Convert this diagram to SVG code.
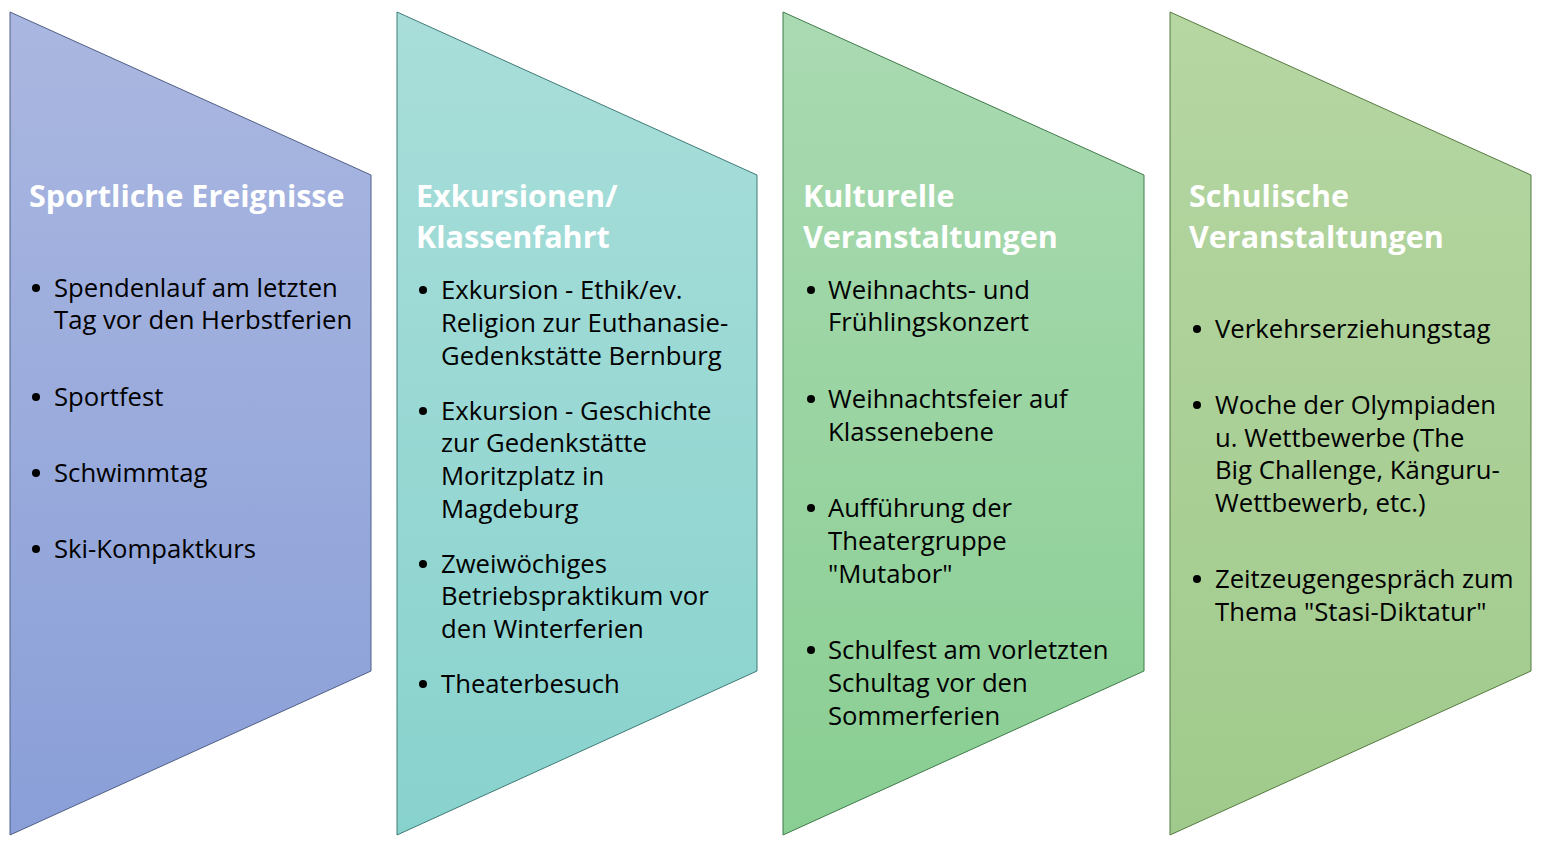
<svg xmlns="http://www.w3.org/2000/svg" width="1546" height="844" viewBox="0 0 1546 844">
<defs>
<linearGradient id="g1" x1="0" y1="0" x2="0" y2="1"><stop offset="0" stop-color="#AAB7E0"/><stop offset="1" stop-color="#8A9FD8"/></linearGradient>
<linearGradient id="g2" x1="0" y1="0" x2="0" y2="1"><stop offset="0" stop-color="#A9DEDA"/><stop offset="1" stop-color="#88D2CD"/></linearGradient>
<linearGradient id="g3" x1="0" y1="0" x2="0" y2="1"><stop offset="0" stop-color="#AADAB2"/><stop offset="1" stop-color="#89CE92"/></linearGradient>
<linearGradient id="g4" x1="0" y1="0" x2="0" y2="1"><stop offset="0" stop-color="#B6D6A2"/><stop offset="1" stop-color="#A0CA8C"/></linearGradient>
</defs>
<style>
.t{font-family:"Open Sans","Liberation Sans",sans-serif;font-weight:bold;font-size:30.5px;fill:#fff}
.b{font-family:"Open Sans","Liberation Sans",sans-serif;font-size:25.7px;fill:#000}
.s{stroke-width:1}
</style>
<rect width="1546" height="844" fill="#fff"/>
<g id="node1">
<polygon class="s" points="10,12 371,175 371,671 10,835" fill="url(#g1)" stroke="#4F5F86"/>
<text class="t" x="29" y="207">Sportliche Ereignisse</text>
<circle cx="36" cy="288" r="4"/><text class="b" x="54" y="297">Spendenlauf am letzten</text>
<text class="b" x="54" y="329">Tag vor den Herbstferien</text>
<circle cx="36" cy="397" r="4"/><text class="b" x="54" y="406">Sportfest</text>
<circle cx="36" cy="473" r="4"/><text class="b" x="54" y="482">Schwimmtag</text>
<circle cx="36" cy="549" r="4"/><text class="b" x="54" y="558">Ski-Kompaktkurs</text>
</g>
<g id="node2">
<polygon class="s" points="397,12 757,175 757,671 397,835" fill="url(#g2)" stroke="#3F7A76"/>
<text class="t" x="416" y="207">Exkursionen/</text>
<text class="t" x="416" y="248">Klassenfahrt</text>
<circle cx="423" cy="290" r="4"/><text class="b" x="441" y="299">Exkursion - Ethik/ev.</text>
<text class="b" x="441" y="332">Religion zur Euthanasie-</text>
<text class="b" x="441" y="365">Gedenkstätte Bernburg</text>
<circle cx="423" cy="411" r="4"/><text class="b" x="441" y="420">Exkursion - Geschichte</text>
<text class="b" x="441" y="452">zur Gedenkstätte</text>
<text class="b" x="441" y="485">Moritzplatz in</text>
<text class="b" x="441" y="518">Magdeburg</text>
<circle cx="423" cy="564" r="4"/><text class="b" x="441" y="573">Zweiwöchiges</text>
<text class="b" x="441" y="605">Betriebspraktikum vor</text>
<text class="b" x="441" y="638">den Winterferien</text>
<circle cx="423" cy="684" r="4"/><text class="b" x="441" y="693">Theaterbesuch</text>
</g>
<g id="node3">
<polygon class="s" points="783,12 1144,175 1144,671 783,835" fill="url(#g3)" stroke="#3F7A4A"/>
<text class="t" x="803" y="207">Kulturelle</text>
<text class="t" x="803" y="248">Veranstaltungen</text>
<circle cx="811" cy="290" r="4"/><text class="b" x="828" y="299">Weihnachts- und</text>
<text class="b" x="828" y="331">Frühlingskonzert</text>
<circle cx="811" cy="399" r="4"/><text class="b" x="828" y="408">Weihnachtsfeier auf</text>
<text class="b" x="828" y="441">Klassenebene</text>
<circle cx="811" cy="508" r="4"/><text class="b" x="828" y="517">Aufführung der</text>
<text class="b" x="828" y="550">Theatergruppe</text>
<text class="b" x="828" y="583">"Mutabor"</text>
<circle cx="811" cy="650" r="4"/><text class="b" x="828" y="659">Schulfest am vorletzten</text>
<text class="b" x="828" y="692">Schultag vor den</text>
<text class="b" x="828" y="725">Sommerferien</text>
</g>
<g id="node4">
<polygon class="s" points="1170,12 1531,175 1531,671 1170,835" fill="url(#g4)" stroke="#557A40"/>
<text class="t" x="1189" y="207">Schulische</text>
<text class="t" x="1189" y="248">Veranstaltungen</text>
<circle cx="1197" cy="329" r="4"/><text class="b" x="1215" y="338">Verkehrserziehungstag</text>
<circle cx="1197" cy="405" r="4"/><text class="b" x="1215" y="414">Woche der Olympiaden</text>
<text class="b" x="1215" y="447">u. Wettbewerbe (The</text>
<text class="b" x="1215" y="479">Big Challenge, Känguru-</text>
<text class="b" x="1215" y="512">Wettbewerb, etc.)</text>
<circle cx="1197" cy="579" r="4"/><text class="b" x="1215" y="588">Zeitzeugengespräch zum</text>
<text class="b" x="1215" y="621">Thema "Stasi-Diktatur"</text>
</g>
<g id="connectors"/>
</svg>
